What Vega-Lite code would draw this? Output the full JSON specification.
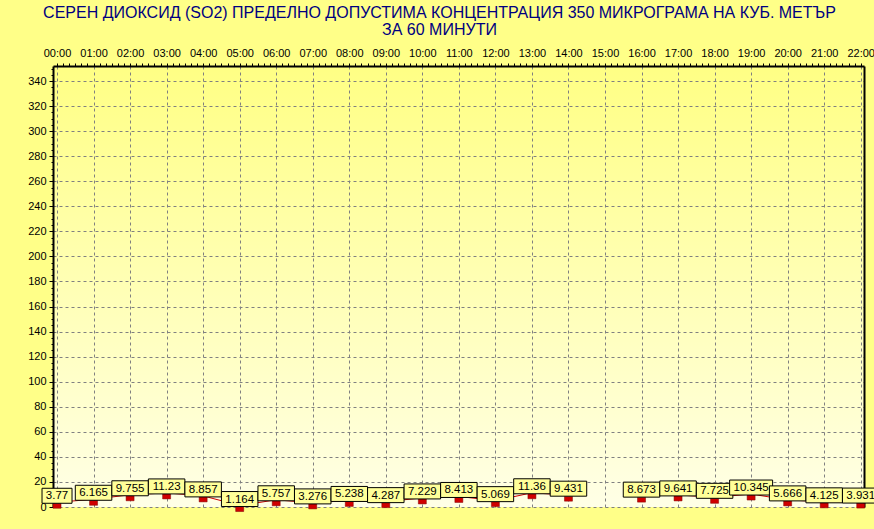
{
  "$schema": "https://vega.github.io/schema/vega-lite/v6.json",
  "width": 811,
  "height": 441,
  "autosize": "none",
  "padding": {"left": 53, "top": 66, "right": 10, "bottom": 22},
  "background": "#FFFF88",
  "title": {
    "text": ["СЕРЕН ДИОКСИД  (SO2)  ПРЕДЕЛНО ДОПУСТИМА КОНЦЕНТРАЦИЯ 350 МИКРОГРАМА  НА КУБ. МЕТЪР", "ЗА 60 МИНУТИ"],
    "font": "Liberation Sans",
    "fontSize": 16,
    "fontWeight": "normal",
    "color": "#000080",
    "lineHeight": 17,
    "anchor": "middle",
    "dx": -19,
    "offset": 9
  },
  "config": {
    "view": {
      "stroke": null,
      "fill": {"gradient": "linear", "x1": 0, "y1": 0, "x2": 0, "y2": 1,
        "stops": [{"offset": 0, "color": "#FFFF84"}, {"offset": 1, "color": "#FFFFE6"}]}
    },
    "axis": {
      "labelFont": "Liberation Sans",
      "labelFontSize": 11,
      "labelColor": "black",
      "tickColor": "#000000",
      "domainColor": "#000000",
      "gridColor": "#808080",
      "gridDash": [3, 3],
      "gridOpacity": 1,
      "title": null
    }
  },
  "data": {
    "values": [
      {"hour": 0, "value": 3.77},
      {"hour": 1, "value": 6.165},
      {"hour": 2, "value": 9.755},
      {"hour": 3, "value": 11.23},
      {"hour": 4, "value": 8.857},
      {"hour": 5, "value": 1.164},
      {"hour": 6, "value": 5.757},
      {"hour": 7, "value": 3.276},
      {"hour": 8, "value": 5.238},
      {"hour": 9, "value": 4.287},
      {"hour": 10, "value": 7.229},
      {"hour": 11, "value": 8.413},
      {"hour": 12, "value": 5.069},
      {"hour": 13, "value": 11.36},
      {"hour": 14, "value": 9.431},
      {"hour": 15, "value": null},
      {"hour": 16, "value": 8.673},
      {"hour": 17, "value": 9.641},
      {"hour": 18, "value": 7.725},
      {"hour": 19, "value": 10.345},
      {"hour": 20, "value": 5.666},
      {"hour": 21, "value": 4.125},
      {"hour": 22, "value": 3.931}
    ]
  },
  "resolve": {"axis": {"x": "independent", "y": "independent"}},
  "layer": [
    {
      "mark": {"type": "line", "color": "#D00000", "strokeWidth": 1, "invalid": "break-paths-show-domains"},
      "encoding": {
        "x": {"field": "hour", "type": "quantitative",
          "scale": {"domain": [-0.11, 22.09], "nice": false, "zero": false},
          "axis": {"orient": "top", "values": [0,1,2,3,4,5,6,7,8,9,10,11,12,13,14,15,16,17,18,19,20,21,22],
            "labelExpr": "(datum.value < 10 ? '0' : '') + datum.value + ':00'",
            "labelColor": "black", "labelOverlap": false,
            "grid": true, "domainWidth": 2, "tickSize": 3, "labelPadding": 5, "labelAngle": 0}},
        "y": {"field": "value", "type": "quantitative",
          "scale": {"domain": [0, 352], "nice": false},
          "axis": {"orient": "left", "values": [0,20,40,60,80,100,120,140,160,180,200,220,240,260,280,300,320,340],
            "labelColor": "black",
            "grid": true, "domainWidth": 2, "tickSize": 4, "labelPadding": 3}}
      }
    },
    {
      "transform": [{"filter": "datum.value != null"}],
      "mark": {"type": "rect", "width": 8, "height": 5, "yOffset": 3.5, "fill": "#D00000", "stroke": "#800000", "strokeWidth": 0.5},
      "encoding": {
        "x": {"field": "hour", "type": "quantitative",
          "axis": {"orient": "top", "labels": false, "grid": false, "domain": false, "tickSize": 3,
            "values": [0.1667,0.3333,0.5,0.6667,0.8333,1.1667,1.3333,1.5,1.6667,1.8333,2.1667,2.3333,2.5,2.6667,2.8333,3.1667,3.3333,3.5,3.6667,3.8333,4.1667,4.3333,4.5,4.6667,4.8333,5.1667,5.3333,5.5,5.6667,5.8333,6.1667,6.3333,6.5,6.6667,6.8333,7.1667,7.3333,7.5,7.6667,7.8333,8.1667,8.3333,8.5,8.6667,8.8333,9.1667,9.3333,9.5,9.6667,9.8333,10.1667,10.3333,10.5,10.6667,10.8333,11.1667,11.3333,11.5,11.6667,11.8333,12.1667,12.3333,12.5,12.6667,12.8333,13.1667,13.3333,13.5,13.6667,13.8333,14.1667,14.3333,14.5,14.6667,14.8333,15.1667,15.3333,15.5,15.6667,15.8333,16.1667,16.3333,16.5,16.6667,16.8333,17.1667,17.3333,17.5,17.6667,17.8333,18.1667,18.3333,18.5,18.6667,18.8333,19.1667,19.3333,19.5,19.6667,19.8333,20.1667,20.3333,20.5,20.6667,20.8333,21.1667,21.3333,21.5,21.6667,21.8333]}},
        "y": {"field": "value", "type": "quantitative",
          "axis": {"orient": "right", "labels": false, "ticks": false, "grid": false, "domainWidth": 2}}
      }
    },
    {
      "transform": [{"filter": "datum.value != null"}],
      "mark": {"type": "rect", "height": 15, "yOffset": -6.5, "fill": "#FFFF99", "stroke": "#000000", "strokeWidth": 1,
        "width": {"expr": "length(toString(datum.value)) * 6.5 + 4"}},
      "encoding": {
        "x": {"field": "hour", "type": "quantitative", "axis": null},
        "y": {"field": "value", "type": "quantitative",
          "axis": {"orient": "left", "labels": false, "grid": false, "domain": false, "tickSize": 2,
            "values": [5,10,15,25,30,35,45,50,55,65,70,75,85,90,95,105,110,115,125,130,135,145,150,155,165,170,175,185,190,195,205,210,215,225,230,235,245,250,255,265,270,275,285,290,295,305,310,315,325,330,335,345,350]}}
      }
    },
    {
      "transform": [{"filter": "datum.value != null"}],
      "mark": {"type": "text", "yOffset": -6, "baseline": "middle", "align": "center", "fontSize": 11.5,
        "font": "Liberation Sans", "color": "#000000"},
      "encoding": {
        "x": {"field": "hour", "type": "quantitative", "axis": null},
        "y": {"field": "value", "type": "quantitative", "axis": null},
        "text": {"field": "value", "type": "nominal"}
      }
    }
  ]
}
